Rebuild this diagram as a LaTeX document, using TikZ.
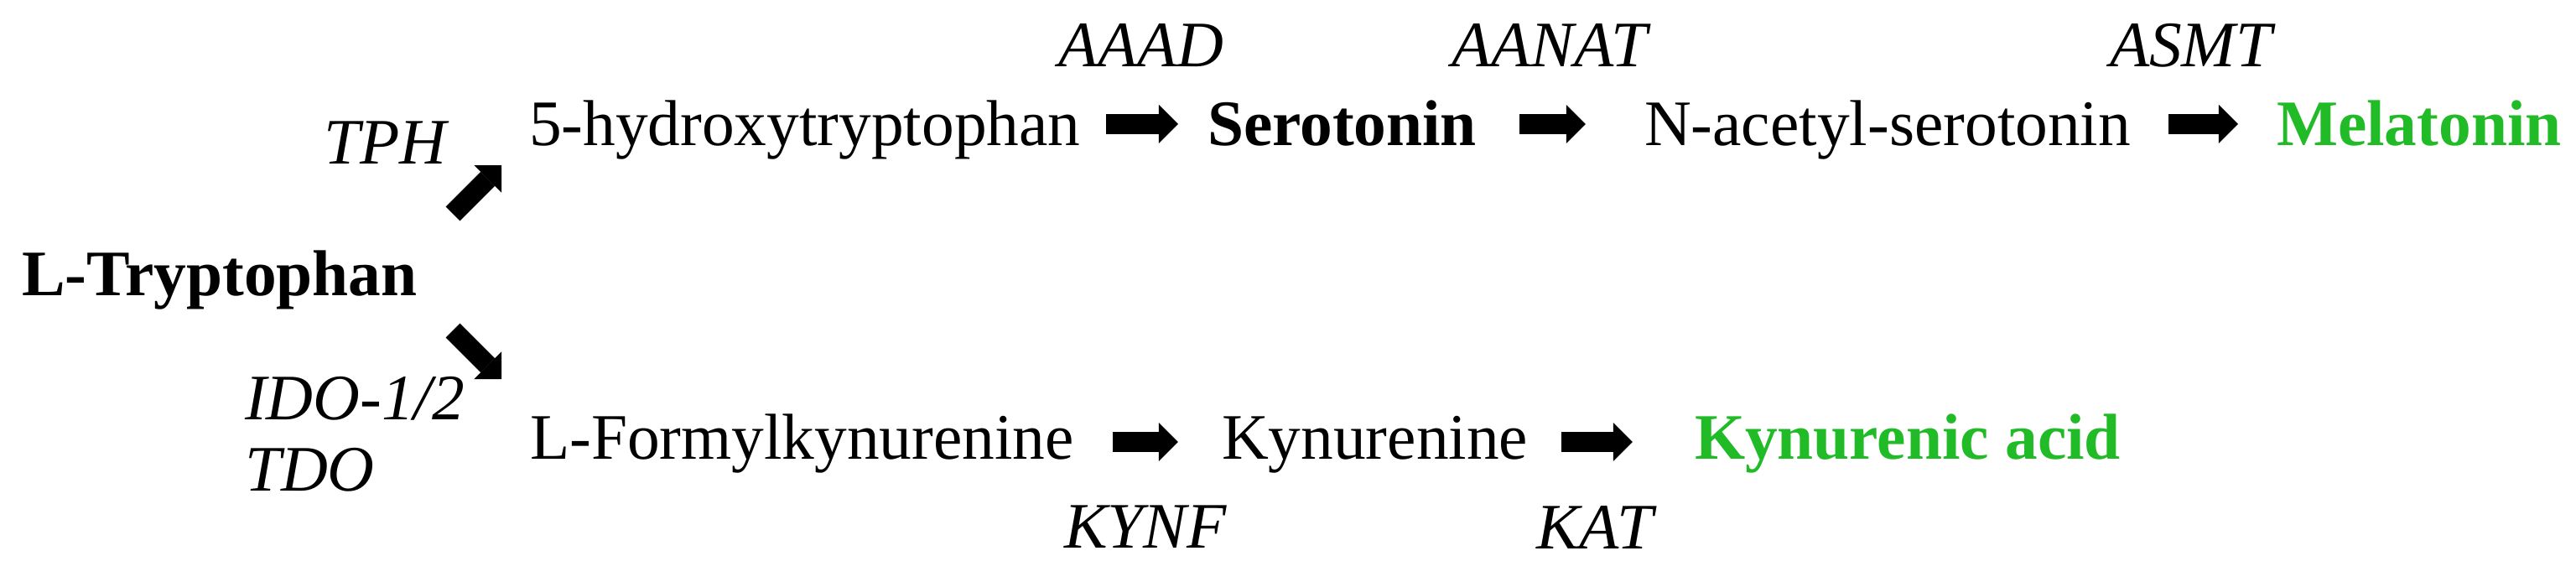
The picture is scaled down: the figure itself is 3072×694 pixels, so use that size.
\documentclass[tikz,border=0pt]{standalone}
\usepackage{fontspec}
\setmainfont{Liberation Serif}
\usetikzlibrary{arrows.meta}
\definecolor{prodgreen}{RGB}{34,187,40}

\begin{document}
\begin{tikzpicture}[x=0.01cm,y=-0.01cm,
	every node/.style={inner sep=0pt,outer sep=0pt,font=\fontsize{22pt}{26pt}\selectfont},
	mol/.style={anchor=base west,text height=0.5cm,text depth=0pt},
	molb/.style={mol,font=\fontsize{22pt}{26pt}\selectfont\bfseries},
	prod/.style={molb,text=prodgreen},
	enz/.style={anchor=base west,font=\fontsize{22pt}{26pt}\selectfont\itshape},
	flow/.style={line width=0.24cm,-{Triangle[length=0.23cm,width=0.46cm,line width=0pt]}}]
	\useasboundingbox (0,0) rectangle (3072,694);
	% start
	\node[molb] (ltrp) at (26,352) {L-Tryptophan};
	\node[enz] (tph) at (386,195) {TPH};
	\node[enz] (ido) at (292,500) {IDO-1/2};
	\node[enz] (tdo) at (292,585) {TDO};
	\coordinate (sertail) at (540,255);
	\coordinate (sertip) at (598,197);
	\coordinate (kyntail) at (540,394);
	\coordinate (kyntip) at (598,452);
	\draw[flow] (sertail) -- (sertip);
	\draw[flow] (kyntail) -- (kyntip);
	% serotonin branch
	\node[mol] (hydroxy) at (631,173) {5-hydroxytryptophan};
	\node[molb] (serotonin) at (1440,173) {Serotonin};
	\node[mol] (acetyl) at (1961,173) {N-acetyl-serotonin};
	\node[prod] (melatonin) at (2715,173) {Melatonin};
	\node[enz] (aaad) at (1262,80) {AAAD};
	\node[enz] (aanat) at (1731,80) {AANAT};
	\node[enz] (asmt) at (2516,80) {ASMT};
	\draw[flow,shorten <=0.30cm,shorten >=0.35cm] (hydroxy) -- (serotonin);
	\draw[flow,shorten <=0.51cm,shorten >=0.70cm] (serotonin) -- (acetyl);
	\draw[flow,shorten <=0.45cm,shorten >=0.46cm] (acetyl) -- (melatonin);
	% kynurenine branch
	\node[mol,text height=0.4cm] (formyl) at (632,547) {L-Formylkynurenine};
	\node[mol,text height=0.4cm] (kynurenine) at (1457,547) {Kynurenine};
	\node[prod,text height=0.4cm] (kynacid) at (2021,547) {Kynurenic acid};
	\node[enz] (kynf) at (1269,653) {KYNF};
	\node[enz] (kat) at (1832,654) {KAT};
	\draw[flow,shorten <=0.46cm,shorten >=0.52cm] (formyl) -- (kynurenine);
	\draw[flow,shorten <=0.40cm,shorten >=0.74cm] (kynurenine) -- (kynacid);
\end{tikzpicture}
\end{document}
